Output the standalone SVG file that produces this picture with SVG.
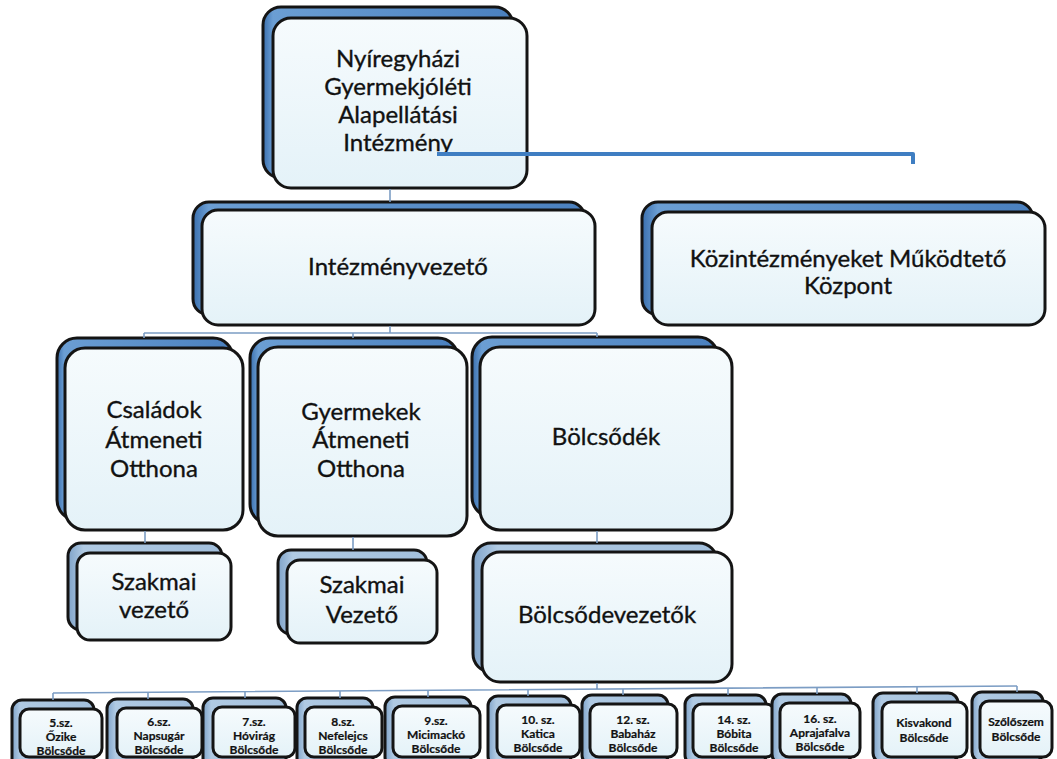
<svg xmlns="http://www.w3.org/2000/svg" width="1057" height="759" viewBox="0 0 1057 759">
<style>
.back{fill:url(#gBack);stroke:#141414;stroke-width:3}
.backS{fill:url(#gBackS);stroke:#141414;stroke-width:3}
.front{fill:url(#gFront);stroke:#141414;stroke-width:3}
.t{font-family:Lato,"Liberation Sans",sans-serif;font-size:24px;fill:#111;stroke:#111;stroke-width:0.35;text-anchor:middle}
.s{font-family:Lato,"Liberation Sans",sans-serif;font-size:12px;font-weight:bold;fill:#111;stroke:#111;stroke-width:0.2;text-anchor:middle}
.thin{fill:none;stroke:#7c9dc4;stroke-width:1.6}
.thick{fill:none;stroke:#3f7ec2;stroke-width:4;stroke-linejoin:round}
</style>
<defs>
<linearGradient id="gFront" x1="0" y1="0" x2="0" y2="1">
<stop offset="0" stop-color="#f6fbfd"/>
<stop offset="1" stop-color="#e4f2f8"/>
</linearGradient>
<linearGradient id="gBack" x1="0" y1="0" x2="1" y2="0">
<stop offset="0" stop-color="#3a6fae"/>
<stop offset="0.04" stop-color="#6b9ed3"/>
<stop offset="1" stop-color="#4a80bf"/>
</linearGradient>
<linearGradient id="gBackS" x1="0" y1="0" x2="1" y2="0">
<stop offset="0" stop-color="#7fa3c9"/>
<stop offset="0.1" stop-color="#b0cae3"/>
<stop offset="1" stop-color="#a2bfdc"/>
</linearGradient>
</defs>
<rect width="1057" height="759" fill="#ffffff"/>

<g id="n-top">
<rect class="back" x="263" y="7" width="250" height="171" rx="18"/>
<rect class="front" x="273" y="18" width="254" height="170" rx="18"/>
<text class="t" x="398" y="67">Nyíregyházi</text>
<text class="t" x="398" y="95">Gyermekjóléti</text>
<text class="t" x="398" y="123">Alapellátási</text>
<text class="t" x="398" y="151">Intézmény</text>
</g>

<g id="n-intezmenyvezeto">
<rect class="back" x="193" y="202" width="392" height="113" rx="16"/>
<rect class="front" x="202" y="210" width="393" height="115" rx="16"/>
<text class="t" x="398" y="275">Intézményvezető</text>
</g>

<g id="n-kmk">
<rect class="back" x="642" y="202" width="391" height="113" rx="16"/>
<rect class="front" x="652" y="212" width="393" height="113" rx="16"/>
<text class="t" x="848" y="267">Közintézményeket Működtető</text>
<text class="t" x="848" y="294">Központ</text>
</g>

<g id="n-csaladok">
<rect class="back" x="57" y="338" width="176" height="182" rx="20"/>
<rect class="front" x="65" y="348" width="178" height="182" rx="20"/>
<text class="t" x="154" y="418">Családok</text>
<text class="t" x="154" y="448">Átmeneti</text>
<text class="t" x="154" y="477">Otthona</text>
</g>

<g id="n-gyermekek">
<rect class="back" x="250" y="338" width="208" height="186" rx="20"/>
<rect class="front" x="258" y="347" width="209" height="189" rx="20"/>
<text class="t" x="361" y="420">Gyermekek</text>
<text class="t" x="361" y="448">Átmeneti</text>
<text class="t" x="361" y="477">Otthona</text>
</g>

<g id="n-bolcsodek">
<rect class="back" x="472" y="337" width="246" height="180" rx="20"/>
<rect class="front" x="480" y="347" width="252" height="183" rx="20"/>
<text class="t" x="606" y="445">Bölcsődék</text>
</g>

<g id="n-szakmai1">
<rect class="backS" x="68" y="543" width="154" height="87" rx="13"/>
<rect class="front" x="77" y="553" width="154" height="87" rx="13"/>
<text class="t" x="154" y="590">Szakmai</text>
<text class="t" x="154" y="618">vezető</text>
</g>

<g id="n-szakmai2">
<rect class="backS" x="278" y="550" width="149" height="84" rx="13"/>
<rect class="front" x="287" y="560" width="150" height="83" rx="13"/>
<text class="t" x="362" y="593">Szakmai</text>
<text class="t" x="362" y="623">Vezető</text>
</g>

<g id="n-bolcsodevezetok">
<rect class="backS" x="473" y="543" width="244" height="129" rx="18"/>
<rect class="front" x="482" y="552" width="250" height="130" rx="18"/>
<text class="t" x="607" y="623">Bölcsődevezetők</text>
</g>

<g id="b1">
<rect class="backS" x="12" y="700" width="82" height="70" rx="10"/>
<rect class="front" x="20" y="709" width="82" height="48" rx="9"/>
<text class="s" x="61" y="727">5.sz.</text>
<text class="s" x="61" y="741">Őzike</text>
<text class="s" x="61" y="755">Bölcsőde</text>
</g>
<g id="b2">
<rect class="backS" x="107" y="699" width="86" height="70" rx="10"/>
<rect class="front" x="117" y="708" width="85" height="49" rx="9"/>
<text class="s" x="159" y="726">6.sz.</text>
<text class="s" x="159" y="740">Napsugár</text>
<text class="s" x="159" y="754">Bölcsőde</text>
</g>
<g id="b3">
<rect class="backS" x="203" y="698" width="83" height="70" rx="10"/>
<rect class="front" x="213" y="707" width="82" height="50" rx="9"/>
<text class="s" x="254" y="726">7.sz.</text>
<text class="s" x="254" y="740">Hóvirág</text>
<text class="s" x="254" y="754">Bölcsőde</text>
</g>
<g id="b4">
<rect class="backS" x="297" y="698" width="76" height="70" rx="10"/>
<rect class="front" x="305" y="707" width="77" height="50" rx="9"/>
<text class="s" x="343" y="726">8.sz.</text>
<text class="s" x="343" y="740">Nefelejcs</text>
<text class="s" x="343" y="754">Bölcsőde</text>
</g>
<g id="b5">
<rect class="backS" x="385" y="697" width="86" height="70" rx="10"/>
<rect class="front" x="393" y="706" width="87" height="51" rx="9"/>
<text class="s" x="436" y="725">9.sz.</text>
<text class="s" x="436" y="739">Micimackó</text>
<text class="s" x="436" y="753">Bölcsőde</text>
</g>
<g id="b6">
<rect class="backS" x="488" y="696" width="83" height="70" rx="10"/>
<rect class="front" x="497" y="705" width="83" height="52" rx="9"/>
<text class="s" x="538" y="724">10. sz.</text>
<text class="s" x="538" y="738">Katica</text>
<text class="s" x="538" y="752">Bölcsőde</text>
</g>
<g id="b7">
<rect class="backS" x="582" y="695" width="86" height="70" rx="10"/>
<rect class="front" x="590" y="704" width="87" height="53" rx="9"/>
<text class="s" x="633" y="724">12. sz.</text>
<text class="s" x="633" y="738">Babaház</text>
<text class="s" x="633" y="752">Bölcsőde</text>
</g>
<g id="b8">
<rect class="backS" x="685" y="695" width="81" height="70" rx="10"/>
<rect class="front" x="693" y="704" width="82" height="53" rx="9"/>
<text class="s" x="734" y="724">14. sz.</text>
<text class="s" x="734" y="738">Bóbita</text>
<text class="s" x="734" y="752">Bölcsőde</text>
</g>
<g id="b9">
<rect class="backS" x="772" y="694" width="79" height="70" rx="10"/>
<rect class="front" x="780" y="703" width="80" height="54" rx="9"/>
<text class="s" x="820" y="723">16. sz.</text>
<text class="s" x="820" y="737">Aprajafalva</text>
<text class="s" x="820" y="751">Bölcsőde</text>
</g>
<g id="b10">
<rect class="backS" x="873" y="693" width="85" height="70" rx="10"/>
<rect class="front" x="882" y="702" width="85" height="55" rx="9"/>
<text class="s" x="924" y="727">Kisvakond</text>
<text class="s" x="924" y="742">Bölcsőde</text>
</g>
<g id="b11">
<rect class="backS" x="972" y="692" width="71" height="70" rx="10"/>
<rect class="front" x="980" y="701" width="72" height="56" rx="9"/>
<text class="s" x="1016" y="726">Szőlőszem</text>
<text class="s" x="1016" y="741">Bölcsőde</text>
</g>

<g id="connectors">
<path class="thin" d="M390 189 V202"/>
<path class="thin" d="M390 326 V333 M144 333 H597 M144 333 V338 M353 333 V338 M597 333 V337"/>
<path class="thin" d="M145 531 V543 M353 537 V550 M597 531 V543"/>
<path class="thin" d="M597 683 V689 M53 693 L1017 686"/>
<path class="thin" d="M53 693 V700 M148 692.3 V699 M245 691.6 V698 M340 690.9 V698 M428 690.3 V697 M528 689.6 V696 M623 688.9 V695 M728 688.1 V695 M817 687.5 V694 M917 686.7 V693 M1017 686 V692"/>
<path class="thick" d="M437 154 H913 V164"/>
</g>
</svg>
